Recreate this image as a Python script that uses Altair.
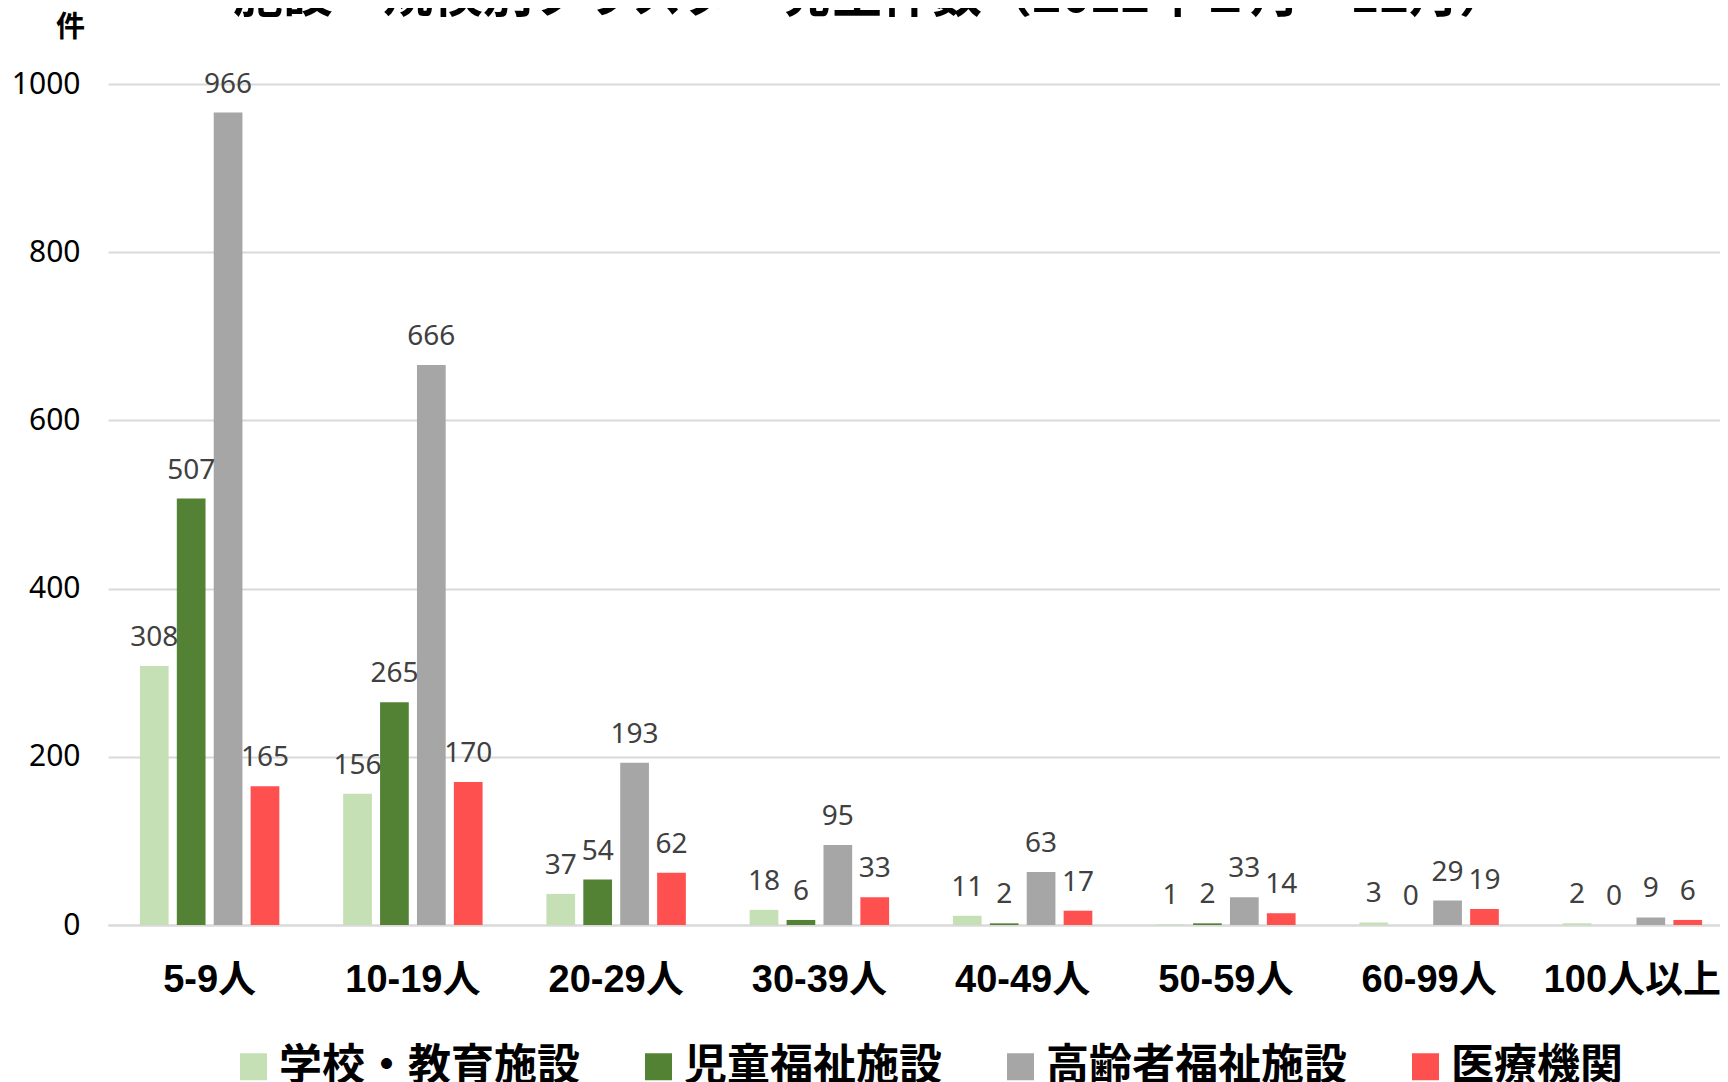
import altair as alt
import pandas as pd

TITLE = "施設・規模別クラスター発生件数（2022年１月～12月）"
Y_UNIT = "件"

categories = ["5-9人", "10-19人", "20-29人", "30-39人", "40-49人", "50-59人", "60-99人", "100人以上"]
series = ["学校・教育施設", "児童福祉施設", "高齢者福祉施設", "医療機関"]
school = [308, 156, 37, 18, 11, 1, 3, 2]
child = [507, 265, 54, 6, 2, 2, 0, 0]
elderly = [966, 666, 193, 95, 63, 33, 29, 9]
medical = [165, 170, 62, 33, 17, 14, 19, 6]
colors = ["#C5E0B4", "#548235", "#A6A6A6", "#FF5050"]
y_ticks = [0, 200, 400, 600, 800, 1000]

rows = []
for name, vals in zip(series, [school, child, elderly, medical]):
    for c, v in zip(categories, vals):
        rows.append({"規模": c, "施設": name, "件数": v})
df = pd.DataFrame(rows)

CJK = "Liberation Sans, Noto Sans CJK JP"

base = alt.Chart(df).encode(
    x=alt.X(
        "規模:N",
        sort=categories,
        scale=alt.Scale(paddingInner=0.314, paddingOuter=0.157),
        axis=alt.Axis(
            title=None,
            labelFont=CJK,
            labelFontSize=38,
            labelFontWeight="bold",
            labelColor="black",
            labelPadding=36,
            labelAngle=0,
            labelLimit=0,
            ticks=False,
            grid=False,
            domainColor="#D9D9D9",
            domainWidth=2,
        ),
    ),
    xOffset=alt.XOffset("施設:N", sort=series, scale=alt.Scale(paddingInner=0.222, paddingOuter=0)),
)

bars = base.mark_bar().encode(
    y=alt.Y(
        "件数:Q",
        scale=alt.Scale(domain=[0, 1000], nice=False),
        axis=alt.Axis(
            values=y_ticks,
            format="d",
            title=Y_UNIT,
            titleAngle=0,
            titleX=-38,
            titleY=-57,
            titleAlign="center",
            titleBaseline="middle",
            titleFont="Noto Sans CJK JP",
            titleFontSize=29,
            titleFontWeight="bold",
            titleColor="black",
            labelFont="Noto Sans",
            labelFontSize=30,
            labelColor="black",
            labelPadding=28,
            ticks=False,
            domain=False,
            gridColor="#D9D9D9",
            gridWidth=2,
        ),
    ),
    color=alt.Color(
        "施設:N",
        sort=series,
        scale=alt.Scale(domain=series, range=colors),
        legend=alt.Legend(
            title=None,
            orient="none",
            legendX=124,
            legendY=961,
            direction="horizontal",
            symbolType="square",
            symbolSize=729,
            symbolStrokeWidth=0,
            labelFont="Noto Sans CJK JP",
            labelFontSize=43,
            labelFontWeight="bold",
            labelColor="black",
            labelOffset=4,
            labelLimit=0,
            columnPadding=57,
            padding=0,
        ),
    ),
)

labels = base.mark_text(
    font="Noto Sans", fontSize=28, color="#404040", baseline="alphabetic", dy=-20
).encode(y="件数:Q", text="件数:Q")

title = alt.Chart(pd.DataFrame({"t": [TITLE]})).mark_text(
    align="left", baseline="alphabetic", font="Noto Sans CJK JP", fontSize=50,
    fontWeight="bold", color="black"
).encode(x=alt.value(125), y=alt.value(-72), text="t:N")

chart = (
    alt.layer(bars, labels, title)
    .properties(
        width=1626,
        height=841,
        autosize=alt.AutoSizeParams(type="none"),
        padding={"left": 100, "top": 76, "right": -14, "bottom": 200},
        background="white",
    )
    .configure_view(stroke=None)
)

chart.save("out.html", embed_options={"renderer": "svg", "actions": False})
